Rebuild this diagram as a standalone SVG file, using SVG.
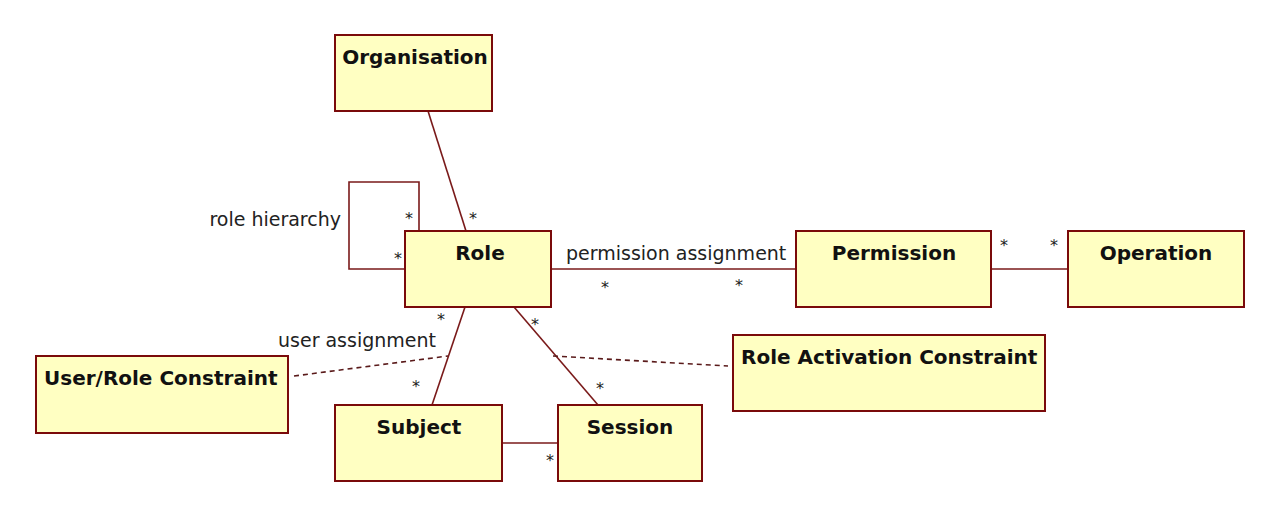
<svg xmlns="http://www.w3.org/2000/svg" width="1280" height="518" viewBox="0 0 1280 518">
<style>
.box{fill:#ffffc2;stroke:#7a0a0a;stroke-width:2}
.t{font-family:"DejaVu Sans",Verdana,sans-serif;font-weight:bold;font-size:20px;fill:#111}
.l{font-family:"DejaVu Sans",Verdana,sans-serif;font-size:19px;fill:#222}
.m{font-family:"DejaVu Sans",Verdana,sans-serif;font-size:16px;fill:#222}
.c{fill:none;stroke:#7a1a1a;stroke-width:1.6}
.d{fill:none;stroke:#5a1a1a;stroke-width:1.6;stroke-dasharray:5,4}
</style>
<rect width="1280" height="518" fill="#ffffff"/>
<g id="connectors">
<line class="c" x1="428" y1="111" x2="466" y2="231"/>
<polyline class="c" points="419,231 419,182 349,182 349,269 405,269"/>
<line class="c" x1="551" y1="269" x2="796" y2="269"/>
<line class="c" x1="991" y1="269" x2="1068" y2="269"/>
<line class="c" x1="465" y1="307" x2="432" y2="405"/>
<line class="c" x1="514" y1="307" x2="598" y2="405"/>
<line class="c" x1="502" y1="443" x2="558" y2="443"/>
<line class="d" x1="294" y1="376" x2="448" y2="356"/>
<line class="d" x1="553" y1="356" x2="728" y2="366"/>
<text class="l" x="341" y="226" text-anchor="end">role hierarchy</text>
<text class="l" x="566" y="260">permission assignment</text>
<text class="l" x="436" y="347" text-anchor="end">user assignment</text>
<text class="m" x="473" y="224" text-anchor="middle">*</text>
<text class="m" x="409" y="224" text-anchor="middle">*</text>
<text class="m" x="398" y="264" text-anchor="middle">*</text>
<text class="m" x="605" y="293" text-anchor="middle">*</text>
<text class="m" x="739" y="291" text-anchor="middle">*</text>
<text class="m" x="1004" y="251" text-anchor="middle">*</text>
<text class="m" x="1054" y="251" text-anchor="middle">*</text>
<text class="m" x="441" y="325" text-anchor="middle">*</text>
<text class="m" x="416" y="392" text-anchor="middle">*</text>
<text class="m" x="535" y="330" text-anchor="middle">*</text>
<text class="m" x="600" y="394" text-anchor="middle">*</text>
<text class="m" x="550" y="466" text-anchor="middle">*</text>
</g>
<g id="organisation"><rect class="box" x="335" y="35" width="157" height="76"/><text class="t" x="415" y="64" text-anchor="middle">Organisation</text></g>
<g id="role"><rect class="box" x="405" y="231" width="146" height="76"/><text class="t" x="480" y="260" text-anchor="middle">Role</text></g>
<g id="permission"><rect class="box" x="796" y="231" width="195" height="76"/><text class="t" x="894" y="260" text-anchor="middle">Permission</text></g>
<g id="operation"><rect class="box" x="1068" y="231" width="176" height="76"/><text class="t" x="1156" y="260" text-anchor="middle">Operation</text></g>
<g id="user-role-constraint"><rect class="box" x="36" y="356" width="252" height="77"/><text class="t" x="44" y="385">User/Role Constraint</text></g>
<g id="subject"><rect class="box" x="335" y="405" width="167" height="76"/><text class="t" x="419" y="434" text-anchor="middle">Subject</text></g>
<g id="session"><rect class="box" x="558" y="405" width="144" height="76"/><text class="t" x="630" y="434" text-anchor="middle">Session</text></g>
<g id="role-activation-constraint"><rect class="box" x="733" y="335" width="312" height="76"/><text class="t" x="741" y="364">Role Activation Constraint</text></g>
</svg>
